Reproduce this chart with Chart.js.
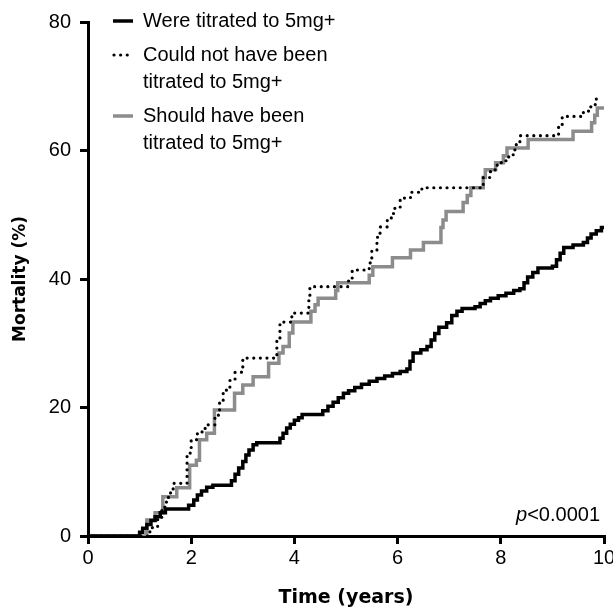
<!DOCTYPE html>
<html>
<head>
<meta charset="utf-8">
<script src="https://cdn.jsdelivr.net/npm/chart.js@4/dist/chart.umd.min.js"></script>
<style>
  body { margin: 0; background: #fff; }
  canvas { display: block; }
</style>
</head>
<body>
<canvas id="kmChart" width="613" height="611"></canvas>
<script>
// Kaplan-Meier style mortality (years, %)
const wereT = [0, 1.0, 1.06, 1.14, 1.22, 1.3, 1.4, 1.5, 1.95, 2.05, 2.12, 2.2, 2.3, 2.42, 2.78, 2.85, 2.92, 3.0, 3.06, 3.12, 3.2, 3.27,
  3.72, 3.78, 3.85, 3.92, 4.0, 4.08, 4.15, 4.55, 4.65, 4.75, 4.85, 4.95, 5.05, 5.17, 5.3, 5.45, 5.6, 5.75, 5.9, 6.05, 6.18,
  6.24, 6.3, 6.45, 6.57, 6.65, 6.72, 6.8, 6.95, 7.05, 7.15, 7.25, 7.5, 7.6, 7.7, 7.8, 7.95, 8.1, 8.25, 8.37, 8.45, 8.52,
  8.62, 8.72, 9.0, 9.08, 9.15, 9.22, 9.4, 9.6, 9.68, 9.75, 9.85, 9.95, 10];
const wereY = [0, 0.6, 1.2, 1.8, 2.4, 3.0, 3.6, 4.2, 4.8, 5.6, 6.4, 7.0, 7.6, 7.9, 8.6, 9.6, 10.6, 11.6, 12.6, 13.4, 14.2, 14.5,
  15.2, 16.0, 16.8, 17.4, 18.0, 18.4, 18.9, 19.5, 20.2, 20.8, 21.5, 22.2, 22.6, 23.1, 23.6, 24.1, 24.5, 24.9, 25.3, 25.6, 26.0,
  27.2, 28.5, 29.0, 29.5, 30.5, 31.5, 32.5, 33.2, 34.3, 35.0, 35.4, 35.7, 36.2, 36.6, 37.0, 37.4, 37.8, 38.2, 38.5, 39.4, 40.3,
  41.0, 41.7, 42.0, 43.0, 44.0, 44.9, 45.3, 45.7, 46.4, 47.0, 47.5, 48.0, 48.2];

const couldT = [0, 1.1, 1.2, 1.35, 1.43, 1.52, 1.6, 1.65, 1.92, 2.0, 2.12, 2.27, 2.46, 2.55, 2.62, 2.75, 2.85, 3.0, 3.66, 3.72,
  3.95, 4.28, 4.3, 5.05, 5.12, 5.45, 5.5, 5.6, 5.66, 5.8, 5.92, 6.05, 6.25, 6.47, 7.66, 7.8, 7.93, 8.1, 8.24, 8.3, 8.37,
  9.12, 9.19, 9.55, 9.7, 9.83, 9.95];
const couldY = [0, 0, 1.3, 2.8, 4.5, 6.0, 7.2, 8.2, 12.9, 15.0, 16.2, 17.3, 18.8, 21.0, 22.7, 24.2, 25.5, 27.7, 30.5, 33.3,
  34.7, 37.0, 38.8, 40.0, 41.4, 42.5, 44.5, 46.5, 48.1, 49.5, 51.0, 52.6, 53.5, 54.2, 55.8, 57.0, 58.1, 59.0, 60.1, 61.2, 62.3,
  63.8, 65.3, 65.9, 66.8, 68.0, 68.0];

const shouldT = [0, 1.1, 1.14, 1.3, 1.45, 1.72, 1.97, 2.1, 2.16, 2.3, 2.45, 2.84, 3.0, 3.2, 3.5, 3.7, 3.78, 3.9, 3.97, 4.32,
  4.4, 4.46, 4.8, 4.84, 5.45, 5.52, 5.9, 6.25, 6.5, 6.84, 6.88, 6.94, 7.27, 7.35, 7.42, 7.66, 7.7, 7.9, 8.05, 8.12, 8.53,
  9.4, 9.76, 9.82, 9.87, 10];
const shouldY = [0, 0, 2.5, 3.6, 6.1, 7.5, 11.0, 11.8, 15.0, 16.0, 19.6, 22.2, 23.5, 24.8, 26.9, 28.5, 29.5, 31.6, 33.3, 35.0,
  36.0, 37.0, 38.2, 39.4, 40.6, 41.9, 43.3, 44.5, 45.7, 48.0, 49.2, 50.5, 51.9, 53.0, 54.2, 55.8, 57.0, 58.1, 59.2, 60.4, 61.7,
  63.0, 64.3, 65.5, 66.6, 66.6];

const seriesNames = ['Were titrated to 5mg+', 'Could not have been\ntitrated to 5mg+', 'Should have been\ntitrated to 5mg+'];
const xTicks = [0, 2, 4, 6, 8, 10];
const yTicks = [0, 20, 40, 60, 80];

const pts = (t, y) => t.map((v, i) => ({x: v, y: y[i]}));
const FONT = 'Arial, "Liberation Sans", sans-serif';
const TITLE_FONT = '"DejaVu Sans", sans-serif';

const ctx = document.getElementById('kmChart').getContext('2d');

const legendAndP = {
    id: 'legendAndP',
    afterDraw(chart) {
        const c = chart.ctx;
        const ds = chart.data.datasets;
        c.save();
        c.font = '20px ' + FONT;
        c.fillStyle = '#000';
        c.textBaseline = 'middle';
        let y = 21;
        ds.forEach(d => {
            c.save();
            c.strokeStyle = d.borderColor;
            c.lineWidth = d.borderWidth;
            c.lineCap = d.borderCapStyle || 'butt';
            c.setLineDash(d.borderDash || []);
            c.beginPath();
            c.moveTo(d.borderDash ? 114 : 113, y);
            c.lineTo(133, y);
            c.stroke();
            c.restore();
            d.label.split('\n').forEach(line => {
                c.fillText(line, 143, y);
                y += 27;
            });
            y += 7;
        });
        // p value
        c.textAlign = 'right';
        c.font = '20px ' + FONT;
        const rest = '<0.0001';
        c.fillText(rest, 600, 515);
        const w = c.measureText(rest).width;
        c.font = 'italic 20px ' + FONT;
        c.fillText('p', 600 - w, 515);
        c.restore();
    }
};

new Chart(ctx, {
    type: 'line',
    data: {
        datasets: [{
            label: seriesNames[0],
            data: pts(wereT, wereY),
            borderColor: '#000',
            borderWidth: 3.5,
            stepped: true
        }, {
            label: seriesNames[1],
            data: pts(couldT, couldY),
            borderColor: '#000',
            borderWidth: 3.2,
            borderDash: [0.01, 6.6],
            borderCapStyle: 'round',
            stepped: true
        }, {
            label: seriesNames[2],
            data: pts(shouldT, shouldY),
            borderColor: '#8c8c8c',
            borderWidth: 3.5,
            stepped: true
        }]
    },
    options: {
        responsive: false,
        animation: false,
        devicePixelRatio: 1,
        elements: { point: { radius: 0 } },
        layout: { padding: { top: 22, right: 9, left: 0, bottom: 0 } },
        plugins: {
            legend: { display: false },
            tooltip: { enabled: false }
        },
        scales: {
            x: {
                type: 'linear',
                min: 0,
                max: 10,
                afterBuildTicks(s) { s.ticks = xTicks.map(v => ({value: v})); },
                afterFit(s) { s.height = 75; s.paddingRight = 0; s.paddingLeft = 0; },
                ticks: { color: '#000', font: { size: 20, family: FONT }, padding: 2 },
                grid: { drawOnChartArea: false, tickLength: 8, lineWidth: 3, color: '#000' },
                border: { display: true, width: 3, color: '#000' },
                title: {
                    display: true, text: 'Time (years)', color: '#000',
                    font: { size: 19, weight: 'bold', family: TITLE_FONT },
                    padding: { top: 0, bottom: 2 }
                }
            },
            y: {
                min: 0,
                max: 80,
                afterBuildTicks(s) { s.ticks = yTicks.map(v => ({value: v})); },
                afterFit(s) { s.width = 88; },
                ticks: { color: '#000', font: { size: 20, family: FONT }, padding: 9 },
                grid: { drawOnChartArea: false, tickLength: 8, lineWidth: 3, color: '#000' },
                border: { display: true, width: 3, color: '#000' },
                title: {
                    display: true, text: 'Mortality (%)', color: '#000',
                    font: { size: 17, weight: 'bold', family: TITLE_FONT },
                    padding: { top: 10, bottom: 0 }
                }
            }
        }
    },
    plugins: [legendAndP]
});
</script>
</body>
</html>
